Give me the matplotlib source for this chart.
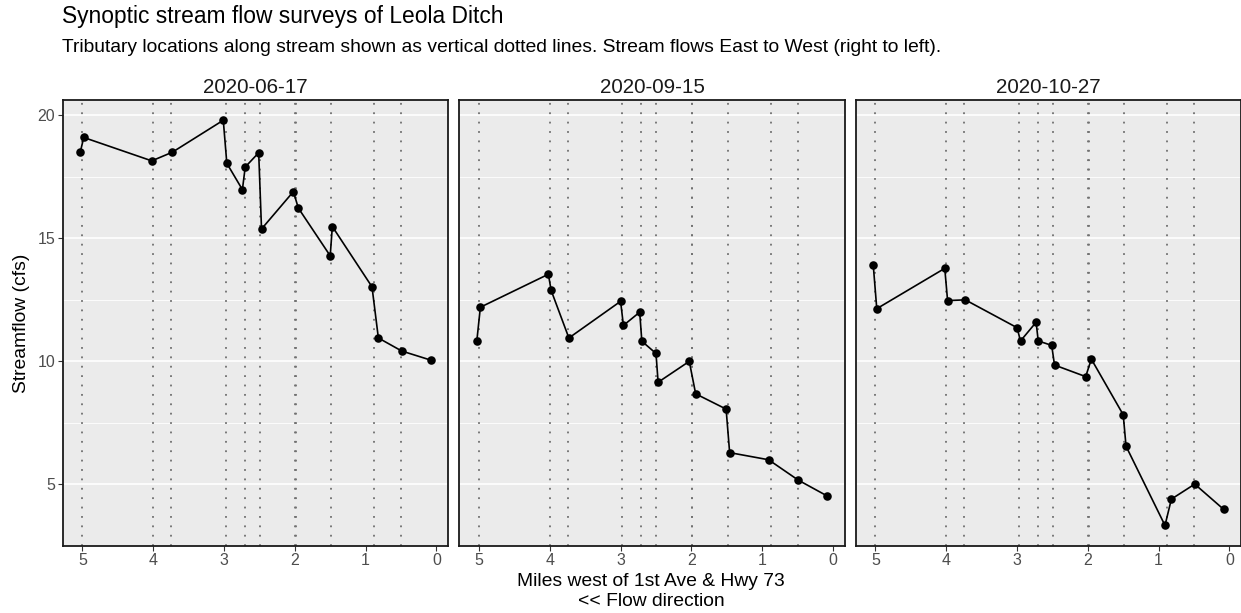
import matplotlib
matplotlib.use("Agg")
import matplotlib.pyplot as plt
from matplotlib.ticker import MultipleLocator
import numpy as np

plt.rcParams['font.family'] = ['Liberation Sans', 'DejaVu Sans']

# ---- data ----
dates = ["2020-06-17", "2020-09-15", "2020-10-27"]

miles_0617 = [5.03, 4.98, 4.02, 3.73, 3.01, 2.96, 2.74, 2.70, 2.51, 2.47, 2.02, 1.95, 1.50, 1.47, 0.91, 0.82, 0.49, 0.08]
flow_0617 = [18.5, 19.1, 18.15, 18.5, 19.8, 18.05, 16.98, 17.9, 18.48, 15.38, 16.9, 16.23, 14.29, 15.48, 13.03, 10.95, 10.42, 10.05]

miles_0915 = [5.03, 4.98, 4.02, 3.98, 3.73, 3.00, 2.96, 2.73, 2.70, 2.50, 2.47, 2.03, 1.94, 1.51, 1.46, 0.91, 0.49, 0.09]
flow_0915 = [10.83, 12.2, 13.54, 12.88, 10.95, 12.44, 11.46, 12.0, 10.82, 10.32, 9.15, 10.0, 8.68, 8.06, 6.29, 6.0, 5.17, 4.54]

miles_1027 = [5.03, 4.98, 4.02, 3.98, 3.73, 3.00, 2.95, 2.73, 2.70, 2.51, 2.47, 2.03, 1.95, 1.50, 1.46, 0.91, 0.82, 0.49, 0.08]
flow_1027 = [13.93, 12.14, 13.78, 12.47, 12.5, 11.37, 10.83, 11.59, 10.83, 10.65, 9.85, 9.38, 10.09, 7.83, 6.55, 3.33, 4.40, 5.01, 3.98]

tributaries = [5.0, 4.0, 3.745, 2.975, 2.71, 2.495, 1.99, 1.995, 1.485, 0.88, 0.495]

x_ticks = [5, 4, 3, 2, 1, 0]
y_ticks = [5, 10, 15, 20]

series = [(miles_0617, flow_0617), (miles_0915, flow_0915), (miles_1027, flow_1027)]

# ---- figure ----
W, H = 1241, 613
fig = plt.figure(figsize=(W / 100, H / 100), dpi=100)

panel_lefts = [62.7, 459.3, 855.7]
panel_w = 385.6
top_px, bot_px = 100.0, 545.7

all_x = [v for s in series for v in s[0]] + tributaries
all_y = [v for s in series for v in s[1]]
xr = max(all_x) - min(all_x)
yr = max(all_y) - min(all_y)
xlim = (max(all_x) + 0.05 * xr, min(all_x) - 0.05 * xr)
ylim = (min(all_y) - 0.05 * yr, max(all_y) + 0.05 * yr)

gray_text = '#4D4D4D'
for i, (date, (mx, fy)) in enumerate(zip(dates, series)):
    l = panel_lefts[i]
    ax = fig.add_axes([l / W, 1 - bot_px / H, panel_w / W, (bot_px - top_px) / H])
    ax.set_facecolor('#EBEBEB')
    ax.set_xlim(*xlim)
    ax.set_ylim(*ylim)
    ax.yaxis.set_major_locator(MultipleLocator(5))
    ax.yaxis.set_minor_locator(MultipleLocator(2.5))
    ax.set_xticks(x_ticks)
    ax.set_yticks(y_ticks)
    ax.grid(axis='y', which='major', color='white', linewidth=1.2, zorder=0)
    ax.grid(axis='y', which='minor', color='white', linewidth=0.6, zorder=0)
    ax.set_axisbelow(True)
    for t in tributaries:
        ax.axvline(t, color='#707070', linestyle=(0, (1, 4.2)), linewidth=1.3, zorder=1)
    ax.plot(mx, fy, color='black', linewidth=1.2, zorder=3)
    ax.scatter(mx, fy, s=38, color='black', zorder=4, linewidths=0)
    for sp in ax.spines.values():
        sp.set_color('#1A1A1A')
        sp.set_linewidth(1.3)
    ax.tick_params(axis='both', which='major', length=3.5, width=0.8, color='#333333',
                   labelcolor=gray_text, labelsize=11.5, pad=2)
    ax.tick_params(axis='y', which='minor', length=0)
    if i > 0:
        ax.tick_params(axis='y', which='both', left=False, labelleft=False)
    ax.set_title(date, fontsize=14.9, color='#1A1A1A', pad=5)

fig.text(62 / W, 1 - 17 / H, "Synoptic stream flow surveys of Leola Ditch",
         fontsize=16.4, ha='left', va='center', color='black')
fig.text(62 / W, 1 - 47 / H,
         "Tributary locations along stream shown as vertical dotted lines. Stream flows East to West (right to left).",
         fontsize=13.9, ha='left', va='center', color='black')
fig.text(651 / W, 1 - 581 / H, "Miles west of 1st Ave & Hwy 73", fontsize=13.9,
         ha='center', va='center', color='black')
fig.text(651 / W, 1 - 601 / H, "<< Flow direction", fontsize=13.9,
         ha='center', va='center', color='black')
fig.text(21 / W, 1 - 323 / H, "Streamflow (cfs)", fontsize=13.9, rotation=90,
         ha='center', va='center', color='black')

fig.savefig('out.png', dpi=100, facecolor='white')
